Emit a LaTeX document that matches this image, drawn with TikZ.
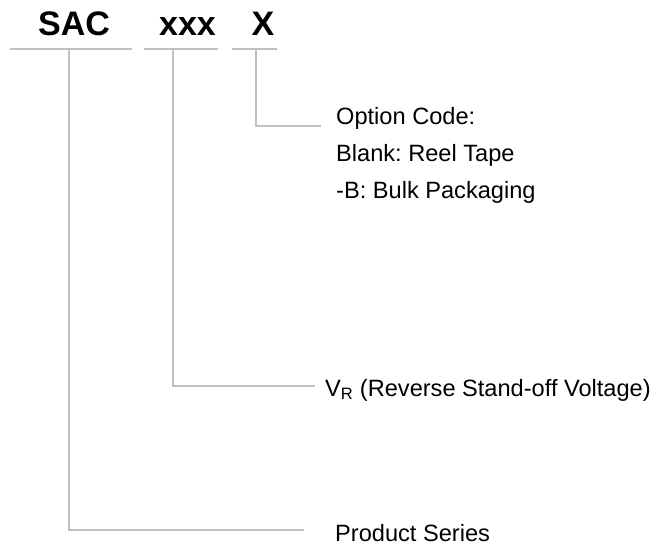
\documentclass[tikz,border=0pt]{standalone}
\usepackage{fontspec}
\setmainfont{Liberation Sans}
\frenchspacing
\definecolor{lineg}{RGB}{192,192,192}
\tikzset{
  leader/.style={draw=lineg, line width=1.6pt},
  code/.style={font=\fontsize{34}{40}\selectfont\bfseries, inner sep=0pt, anchor=base},
  desc/.style={font=\fontsize{23.6}{28}\selectfont, inner sep=0pt, anchor=base west, text=black}
}
\begin{document}
\begin{tikzpicture}[x=1pt, y=-1pt]
\useasboundingbox (0,0) rectangle (660,547);
% part codes
\node[code] (sac) at (74,35) {SAC};
\node[code] (xxx) at (187.5,35) {xxx};
\node[code] (opt) at (263,35) {X};
% underlines
\draw[leader] (10,49) -- (132,49);
\draw[leader] (144,49) -- (218,49);
\draw[leader] (232,49) -- (277,49);
% descriptions
\node[desc] (oc) at (336,124) {Option Code:};
\node[desc] (bl) at (336,161) {Blank: Reel Tape};
\node[desc] (bk) at (336,198) {-B: Bulk Packaging};
\node[desc] (vr) at (325,396) {V\textsubscript{R} (Reverse Stand-off Voltage)};
\node[desc] (ps) at (335,541) {Product Series};
% connector ends
\coordinate (sacT) at (69,50);
\coordinate (xxxT) at (173,50);
\coordinate (optT) at (256,50);
\coordinate (optE) at (321,126);
\coordinate (vrE) at (315,386);
\coordinate (psE) at (304,530);
\draw[leader] (optT) |- (optE);
\draw[leader] (xxxT) |- (vrE);
\draw[leader] (sacT) |- (psE);
\end{tikzpicture}
\end{document}
